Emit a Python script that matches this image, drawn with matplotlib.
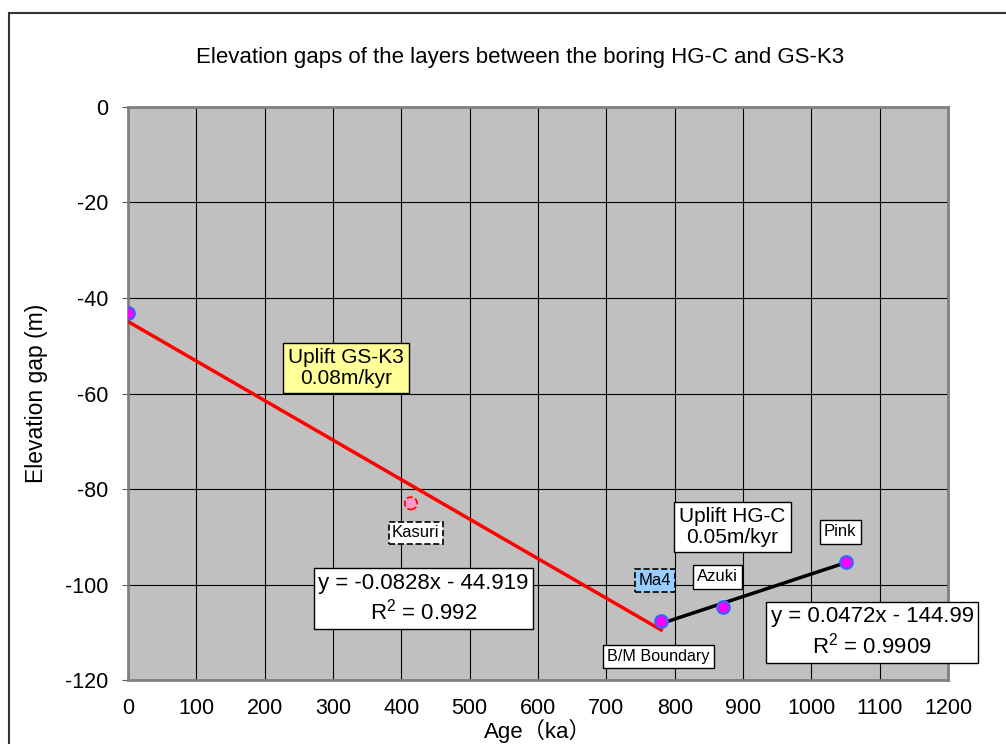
import matplotlib
matplotlib.use("Agg")
import matplotlib.pyplot as plt
from matplotlib.patches import Rectangle

# measured layers (age ka, elevation gap m)
layer_names = ["GS-K3 top", "Kasuri", "B/M Boundary", "Azuki", "Pink"]
ages = [0, 414, 780, 870, 1050]
gaps = [-43.2, -83.0, -107.6, -104.7, -95.3]

# regression fits
fit1_x = [0, 780]
fit1_slope, fit1_icpt = -0.0828, -44.919
fit2_x = [780, 1050]
fit2_slope, fit2_icpt = 0.0472, -144.99

xticks = list(range(0, 1201, 100))
yticks = list(range(-120, 1, 20))

plt.rcParams['font.family'] = ['Liberation Sans', 'DejaVu Sans']

fig = plt.figure(figsize=(10.06, 7.44), dpi=100)
ax = fig.add_axes([0.1272, 0.086, 0.8153, 0.7702])
ax.set_facecolor('#c0c0c0')

# frame of the chart area
fig.patches.append(Rectangle((9 / 1006, -0.1), 1.2, 1 - 13 / 744 + 0.1,
                             transform=fig.transFigure, fill=False,
                             edgecolor='#333333', linewidth=1.5))

ax.set_xlim(0, 1200)
ax.set_ylim(-120, 0)
ax.set_xticks(xticks)
ax.set_yticks(yticks)
ax.set_xticklabels([str(t) for t in xticks])
ax.set_yticklabels([str(t) for t in yticks])
ax.grid(True, color='black', linewidth=0.8)
ax.set_axisbelow(True)
ax.tick_params(axis='both', labelsize=15.5, length=4, color='#555555')
ax.tick_params(axis='x', length=0, pad=13)
ax.tick_params(axis='y', pad=10)
for s in ax.spines.values():
    s.set_color('#808080')
    s.set_linewidth(2)

# regression lines
ax.plot(fit1_x, [fit1_slope * x + fit1_icpt for x in fit1_x], color='red', lw=2.5, zorder=3)
ax.plot(fit2_x, [fit2_slope * x + fit2_icpt for x in fit2_x], color='black', lw=2.5, zorder=3)

# points
main = [0, 2, 3, 4]
ax.plot([ages[i] for i in main], [gaps[i] for i in main], 'o', ms=9,
        mfc='magenta', mec='#3366ff', mew=1.6, ls='none', zorder=4)
ax.scatter([ages[1]], [gaps[1]], s=80, c='#ff99cc', edgecolors='red',
           linewidths=1.2, linestyles='--', zorder=4)

box = dict(boxstyle='square,pad=0.25', fc='white', ec='black', lw=1)
ax.text(421, -89.2, "Kasuri", ha='center', va='center', fontsize=12,
        bbox=dict(boxstyle='square,pad=0.2', fc='white', ec='black', lw=1.2, ls='--'), zorder=5)
ax.text(771, -99.1, "Ma4", ha='center', va='center', fontsize=12,
        bbox=dict(boxstyle='square,pad=0.25', fc='#99ccff', ec='black', lw=1.2, ls='--'), zorder=5)
ax.text(862, -98.4, "Azuki", ha='center', va='center', fontsize=12, bbox=box, zorder=5)
ax.text(776, -115.0, "B/M Boundary", ha='center', va='center', fontsize=11.6, bbox=box, zorder=5)
ax.text(1042, -89.0, "Pink", ha='center', va='center', fontsize=12, bbox=box, zorder=5)

ax.text(319, -54.7, "Uplift GS-K3\n0.08m/kyr", ha='center', va='center', fontsize=15,
        linespacing=1.1,
        bbox=dict(boxstyle='square,pad=0.25', fc='#ffff99', ec='black', lw=1), zorder=5)
ax.text(884, -88.0, "Uplift HG-C\n0.05m/kyr", ha='center', va='center', fontsize=15,
        linespacing=1.1, bbox=dict(boxstyle='square,pad=0.25', fc='white', ec='black', lw=1), zorder=5)

ax.text(432, -103, "y = -0.0828x - 44.919\n$\\mathregular{R^2}$ = 0.992", ha='center', va='center',
        fontsize=16, linespacing=1.25,
        bbox=dict(boxstyle='square,pad=0.2', fc='white', ec='black', lw=1), zorder=5)
ax.text(1089, -110, "y = 0.0472x - 144.99\n$\\mathregular{R^2}$ = 0.9909", ha='center', va='center',
        fontsize=16, linespacing=1.25, clip_on=False,
        bbox=dict(boxstyle='square,pad=0.2', fc='white', ec='black', lw=1), zorder=5)

fig.text(0.517, 1 - 58 / 744, "Elevation gaps of the layers between the boring HG-C and GS-K3",
         ha='center', va='center', fontsize=16)
ax.set_ylabel("Elevation gap (m)", fontsize=16.5, labelpad=12)
ax.set_xlabel("Age（ka）", fontsize=16, labelpad=0,
              family=['Liberation Sans', 'Noto Sans CJK JP'])

fig.savefig("out.png", dpi=100)
